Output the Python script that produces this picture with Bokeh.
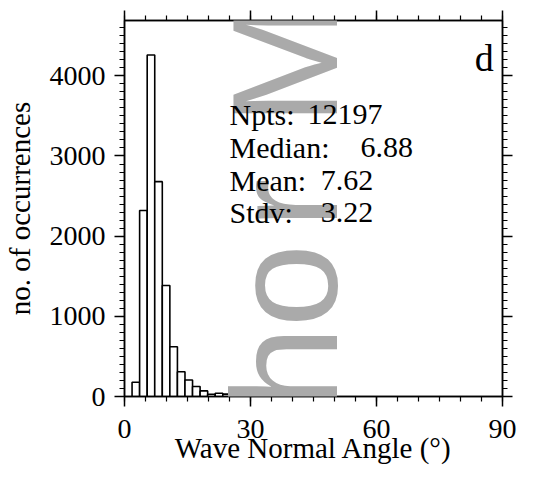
from math import pi

from bokeh.embed import file_html
from bokeh.models import Label, LinearAxis, SingleIntervalTicker
from bokeh.plotting import figure
from bokeh.resources import INLINE

# histogram of wave normal angle, 1.8 deg bins
bin_lo = [1.8, 3.6, 5.4, 7.2, 9.0, 10.8, 12.6, 14.4, 16.2, 18.0, 19.8, 21.6,
          23.4, 25.2, 27.0, 28.8, 30.6, 32.4, 34.2]
counts = [178, 2320, 4260, 2680, 1385, 620, 309, 206, 124, 70, 29, 41,
          30, 15, 12, 10, 8, 6, 5]
bin_w = 1.8

stat_names = ["Npts:", "Median:", "Mean:", "Stdv:"]
stat_vals = ["12197", "6.88", "7.62", "3.22"]

SERIF = "Liberation Serif"

p = figure(width=517, height=467, x_range=(0, 90), y_range=(0, 4690),
           output_backend="svg", toolbar_location=None,
           min_border_left=124, min_border_right=15,
           min_border_top=20, min_border_bottom=71)
p.grid.visible = False
p.outline_line_color = "black"
p.outline_line_width = 1.5
p.background_fill_color = "white"
p.border_fill_color = "white"

right = [b + bin_w for b in bin_lo]
p.quad(left=bin_lo, right=right, bottom=0, top=counts,
       fill_color="white", line_color="black", line_width=1.6)

# watermark (partial "Author Manuscript"), guide level
wm_letters = ["h", "o", "r", "M"]
wm_y = [355, 1385, 2407, 4160]
for ch, yy in zip(wm_letters, wm_y):
    p.add_layout(Label(x=38.1, y=yy, text=ch, angle=pi / 2,
                       text_align="center", text_baseline="middle",
                       text_font="Liberation Sans", text_font_size="150px",
                       text_color="#aaaaaa", level="guide"))

xt = SingleIntervalTicker(interval=30, num_minor_ticks=6)
yt = SingleIntervalTicker(interval=1000, num_minor_ticks=10)

xbot = p.below[0]
yleft = p.left[0]
xbot.ticker = xt
yleft.ticker = yt
xtop = LinearAxis(ticker=xt)
yright = LinearAxis(ticker=yt)
p.add_layout(xtop, "above")
p.add_layout(yright, "right")

for ax in [xbot, yleft, xtop, yright]:
    ax.axis_line_width = 1.5
    ax.major_tick_line_width = 1.5
    ax.minor_tick_line_width = 1.2
    ax.major_tick_in = 0
    ax.major_tick_out = 10
    ax.minor_tick_in = 0
    ax.minor_tick_out = 5
    ax.major_label_text_font = SERIF
    ax.major_label_text_font_size = "28px"
    ax.major_label_text_color = "black"
    ax.axis_label_text_font = SERIF
    ax.axis_label_text_font_size = "29px"
    ax.axis_label_text_font_style = "normal"
    ax.axis_label_text_color = "black"

for ax in [xtop, yright]:
    ax.major_label_text_font_size = "0px"
    ax.major_label_standoff = 0

xbot.axis_label = "Wave Normal Angle (°)"
xbot.major_label_standoff = 13
xbot.axis_label_standoff = -9

yleft.axis_label = "no. of occurrences"
yleft.major_label_standoff = 9
yleft.axis_label_standoff = 11

# stats box
stat_y = [3519, 3107, 2695, 2296]
val_x = [43.6, 56.2, 46.7, 46.7]
for name, val, yy, vx in zip(stat_names, stat_vals, stat_y, val_x):
    p.add_layout(Label(x=25.0, y=yy, text=name, text_font=SERIF,
                       text_font_size="30px", text_color="black",
                       text_baseline="middle", level="overlay"))
    p.add_layout(Label(x=vx, y=yy, text=val, text_font=SERIF,
                       text_font_size="30px", text_color="black",
                       text_baseline="middle", level="overlay"))

p.add_layout(Label(x=87.9, y=4228, text="d", text_align="right",
                   text_baseline="middle", text_font=SERIF,
                   text_font_size="38px", text_color="black", level="overlay"))

open("out.html", "w").write(file_html(p, INLINE))
